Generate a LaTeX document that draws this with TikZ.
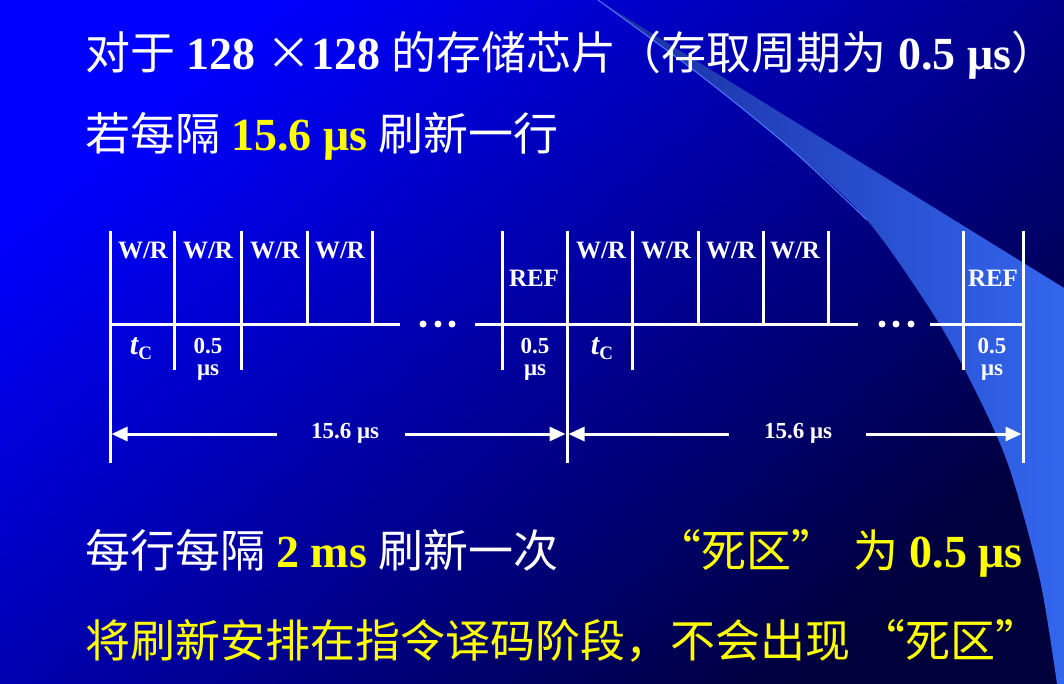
\documentclass[tikz,border=0pt]{standalone}
\usepackage{fontspec}
\setmainfont{Liberation Serif}
\newfontfamily\cjk{Noto Sans CJK SC}
\usetikzlibrary{arrows.meta}
\definecolor{ylw}{RGB}{255,255,0}
\definecolor{bgA}{RGB}{0,0,255}
\definecolor{bgB}{RGB}{0,0,60}
\definecolor{swA}{RGB}{25,45,160}
\definecolor{swB}{RGB}{51,102,238}
\newcommand{\lat}[1]{{\bfseries\fontsize{46}{46}\selectfont #1}}
\begin{document}
\begin{tikzpicture}[x=1pt,y=-1pt,
  wire/.style={draw=white, line width=3pt},
  dimarrow/.style={draw=white, line width=3pt, -{Triangle[length=16pt,width=14pt]}},
  big/.style={anchor=base west, inner sep=0pt, font=\fontsize{45}{45}\selectfont},
  cell/.style={text=white, inner sep=0pt, font=\bfseries\fontsize{25}{25}\selectfont},
  small/.style={text=white, inner sep=0pt, font=\bfseries\fontsize{23}{23}\selectfont},
  dim/.style={text=white, inner sep=0pt, font=\bfseries\fontsize{23}{23}\selectfont},
  dot/.style={circle, fill=white, inner sep=0pt, minimum size=7pt}]
\useasboundingbox (0,0) rectangle (1064,684);
% background
\shade[top color=bgA, bottom color=bgB, shading angle=40] (0,0) rectangle (1064,684);
% swoosh
\shade[left color=swA, right color=swB]
  plot[smooth] coordinates {(598,0) (700,75) (790,148) (867,220) (937,320) (980,400) (1010,470) (1040,580) (1057,684)}
  -- (1064,684) -- (1064,288) -- cycle;
\draw[color={rgb,255:red,80;green,120;blue,255}, line width=1pt]
  plot[smooth] coordinates {(598,0) (700,75) (790,148) (867,220)};

% ---- text lines ----
\node[big, text=white] (l1) at (85,70)
  {{\cjk 对于} \lat{128} {\cjk ×}\lat{128} {\cjk 的存储芯片（存取周期为} \lat{0.5 μs}{\cjk ）}};
\node[big, text=white] (l2) at (85,151)
  {{\cjk 若每隔} \textcolor{ylw}{\lat{15.6 μs}} {\cjk 刷新一行}};
\node[big, text=white] (l3) at (85,567)
  {{\cjk 每行每隔} \textcolor{ylw}{\lat{2 ms}} {\cjk 刷新一次}};
\node[big, text=ylw] (l3b) at (656,567)
  {{\cjk “死区”}\hspace{6pt} {\cjk 为} \lat{0.5 μs}};
\node[big, text=ylw] (l4) at (85,657)
  {{\cjk 将刷新安排在指令译码阶段，不会出现 “死区”}};

% ---- timing diagram coordinates ----
\foreach \n/\x in {a/110,b/174,c/241,d/307,e/372,f/502,g/567,h/632,i/698,j/763,k/828,m/963,n/1023}{
  \coordinate (\n t) at (\x,231);
  \coordinate (\n m) at (\x,324);
  \coordinate (\n s) at (\x,370);
  \coordinate (\n b) at (\x,463);
}
% horizontal time line
\coordinate (h1e) at (400,324);
\coordinate (h2s) at (475,324);
\coordinate (h2e) at (858,324);
\coordinate (h3s) at (930,324);
\draw[wire] (am) -- (h1e);
\draw[wire] (h2s) -- (h2e);
\draw[wire] (h3s) -- (nm);
\node[dot] (d1) at (423,324) {};
\node[dot] (d2) at (438,324) {};
\node[dot] (d3) at (452,324) {};
\node[dot] (d4) at (882,324) {};
\node[dot] (d5) at (896,324) {};
\node[dot] (d6) at (911,324) {};
% verticals
\draw[wire] (at) -- (ab);
\draw[wire] (gt) -- (gb);
\draw[wire] (nt) -- (nb);
\draw[wire] (bt) -- (bs);
\draw[wire] (ct) -- (cs);
\draw[wire] (ft) -- (fs);
\draw[wire] (ht) -- (hs);
\draw[wire] (mt) -- (ms);
\draw[wire] (dt) -- (dm);
\draw[wire] (et) -- (em);
\draw[wire] (it) -- (im);
\draw[wire] (jt) -- (jm);
\draw[wire] (kt) -- (km);

% cell labels
\node[cell] (w1) at (143,250) {W/R};
\node[cell] (w2) at (208,250) {W/R};
\node[cell] (w3) at (275,250) {W/R};
\node[cell] (w4) at (340,250) {W/R};
\node[cell] (w5) at (601,250) {W/R};
\node[cell] (w6) at (666,250) {W/R};
\node[cell] (w7) at (731,250) {W/R};
\node[cell] (w8) at (795,250) {W/R};
\node[cell] (r1) at (534,278) {REF};
\node[cell] (r2) at (993,278) {REF};
\node[text=white, inner sep=0pt] (tc1) at (141,349)
  {\bfseries\itshape\fontsize{30}{30}\selectfont t\upshape\fontsize{19}{19}\selectfont\raisebox{-5pt}{C}};
\node[text=white, inner sep=0pt] (tc2) at (602,349)
  {\bfseries\itshape\fontsize{30}{30}\selectfont t\upshape\fontsize{19}{19}\selectfont\raisebox{-5pt}{C}};
\node[small, anchor=base] (p1) at (208,353) {0.5};
\node[small, anchor=base] (u1) at (208,375) {μs};
\node[small, anchor=base] (p2) at (535,353) {0.5};
\node[small, anchor=base] (u2) at (535,375) {μs};
\node[small, anchor=base] (p3) at (992,353) {0.5};
\node[small, anchor=base] (u3) at (992,375) {μs};

% dimension arrows
\node[dim] (s1) at (345,433) {15.6 μs};
\node[dim] (s2) at (798,433) {15.6 μs};
\coordinate (s1l) at (277,434);
\coordinate (s1r) at (405,434);
\coordinate (s2l) at (729,434);
\coordinate (s2r) at (866,434);
\coordinate (aa) at (111.5,434);
\coordinate (ga) at (565.5,434);
\coordinate (gc) at (568.5,434);
\coordinate (na) at (1021.5,434);
\draw[dimarrow] (s1l) -- (aa);
\draw[dimarrow] (s1r) -- (ga);
\draw[dimarrow] (s2l) -- (gc);
\draw[dimarrow] (s2r) -- (na);
\end{tikzpicture}
\end{document}
